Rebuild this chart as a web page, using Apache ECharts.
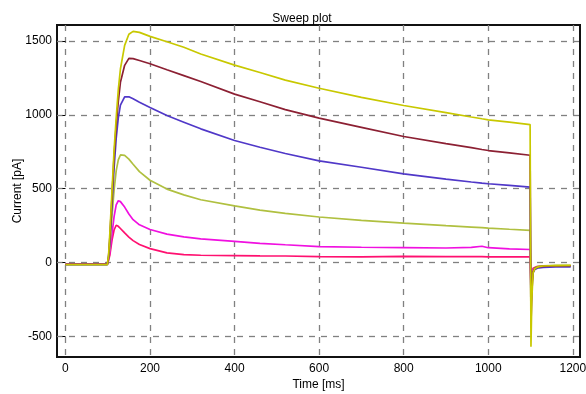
<!DOCTYPE html>
<html>
<head>
<meta charset="utf-8">
<script src="https://cdn.jsdelivr.net/npm/echarts@6/dist/echarts.min.js"></script>
<style>
html,body{margin:0;padding:0;background:#fff;}
#chart{width:586px;height:394px;}
</style>
</head>
<body>
<div id="chart"></div>
<script>
// Time [ms]
const timeMs = [0, 99, 102, 105, 110, 115, 120, 125, 130, 140, 150, 160, 175, 200, 240, 280, 320, 400, 460, 520, 600, 700, 800, 900, 960, 985, 1000, 1050, 1099, 1101, 1103, 1106, 1110, 1115, 1120, 1130, 1145, 1160, 1195];
// Current [pA] per sweep
const sweepYellow  = [-15, -15, 50, 200, 480, 760, 980, 1170, 1310, 1470, 1545, 1565, 1558, 1531, 1495, 1457, 1412, 1336, 1286, 1235, 1180, 1118, 1063, 1015, 985, 973, 966, 950, 934, -570, -250, -70, -42, -33, -28, -24, -22, -21, -20];
const sweepDarkRed = [-12, -12, 40, 170, 440, 720, 930, 1090, 1220, 1335, 1382, 1380, 1368, 1346, 1305, 1265, 1225, 1140, 1088, 1035, 977, 915, 853, 805, 778, 765, 758, 742, 726, -420, -200, -65, -40, -33, -29, -26, -24, -23, -22];
const sweepBlue    = [-14, -14, 35, 140, 390, 640, 840, 980, 1065, 1122, 1122, 1108, 1085, 1050, 995, 950, 905, 826, 780, 738, 688, 645, 600, 565, 545, 537, 533, 522, 510, -300, -150, -70, -48, -40, -36, -33, -31, -30, -30];
const sweepGreen   = [-15, -15, 30, 110, 310, 490, 620, 695, 728, 725, 700, 665, 615, 557, 497, 458, 425, 383, 355, 333, 308, 285, 267, 250, 240, 236, 233, 225, 218, -350, -140, -60, -38, -30, -26, -23, -21, -20, -19];
const sweepMagenta = [-12, -12, 20, 70, 190, 310, 390, 418, 412, 375, 328, 290, 255, 223, 192, 173, 160, 143, 130, 120, 107, 103, 101, 98, 102, 110, 100, 92, 88, -200, -80, -45, -35, -30, -27, -25, -23, -22, -22];
const sweepPink    = [-12, -12, 15, 50, 150, 220, 252, 245, 230, 200, 172, 148, 122, 94, 65, 53, 49, 47, 45, 44, 40, 38, 42, 40, 39, 40, 38, 38, 38, -150, -70, -40, -32, -28, -26, -24, -23, -22, -22];

const xTicks = [0, 200, 400, 600, 800, 1000, 1200];
const yTicks = [-500, 0, 500, 1000, 1500];

const sweeps = [
  {name: 'S6', data: sweepPink, color: '#ff1070'},
  {name: 'S5', data: sweepMagenta, color: '#f010e0'},
  {name: 'S4', data: sweepGreen, color: '#b0c040'},
  {name: 'S3', data: sweepBlue, color: '#5038c8'},
  {name: 'S2', data: sweepDarkRed, color: '#8c2033'},
  {name: 'S1', data: sweepYellow, color: '#c8c800'}
];

const FONT = 'Liberation Sans, Arial, sans-serif';
const chart = echarts.init(document.getElementById('chart'), null, {renderer: 'canvas'});
const grid = {left: 57, right: 6, top: 25, bottom: 37, containLabel: false, outerBoundsMode: 'none',
  show: true, borderColor: '#111', borderWidth: 2, backgroundColor: '#fff'};
const dash = {show: true, lineStyle: {color: '#808080', type: [6, 6], width: 1.3}};
const plain = v => String(v);

chart.setOption({
  animation: false,
  backgroundColor: '#fff',
  title: {text: 'Sweep plot', left: 297, textAlign: 'center', top: 8,
    textStyle: {fontFamily: FONT, fontSize: 12, fontWeight: 'normal', color: '#000'}},
  grid: grid,
  xAxis: {
    type: 'value', min: -20, max: 1217,
    name: 'Time [ms]', nameLocation: 'middle', nameGap: 22, nameMoveOverlap: false,
    nameTextStyle: {fontFamily: FONT, fontSize: 12, color: '#000'},
    axisLine: {show: false},
    axisTick: {show: false, customValues: xTicks},
    axisLabel: {customValues: xTicks, formatter: plain, fontFamily: FONT, fontSize: 12, color: '#000', margin: 6},
    splitLine: dash
  },
  yAxis: {
    type: 'value', min: -640, max: 1608,
    name: 'Current [pA]', nameLocation: 'middle', nameGap: 33, nameMoveOverlap: false,
    nameTextStyle: {fontFamily: FONT, fontSize: 12, color: '#000'},
    axisLine: {show: false},
    axisTick: {show: true, inside: false, length: 3, customValues: yTicks, lineStyle: {color: '#000'}},
    axisLabel: {customValues: yTicks, formatter: plain, fontFamily: FONT, fontSize: 12, color: '#000', margin: 5},
    splitLine: dash
  },
  series: sweeps.map(s => ({
    type: 'line', name: s.name, showSymbol: false, symbol: 'none',
    data: timeMs.map((t, i) => [t, s.data[i]]),
    lineStyle: {color: s.color, width: 1.7},
    itemStyle: {color: s.color}
  }))
});
</script>
</body>
</html>
